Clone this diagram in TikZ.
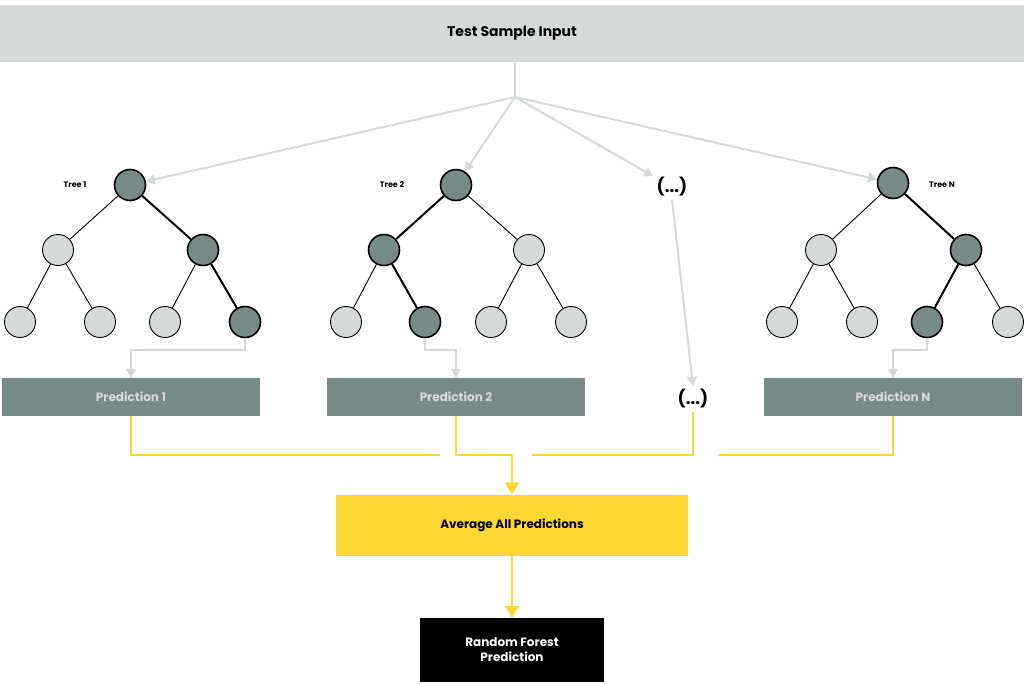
\documentclass[tikz,border=0pt]{standalone}
\usepackage{fontspec}
\setmainfont{Poppins}
\usetikzlibrary{arrows.meta}
\definecolor{lg}{HTML}{D5D9D8}
\definecolor{dg}{HTML}{788A88}
\definecolor{yl}{HTML}{FDD835}
\begin{document}
\begin{tikzpicture}[x=1pt,y=-1pt,
 light/.style={circle,draw=black,line width=0.9pt,fill=lg,minimum size=31pt,inner sep=0},
 dark/.style={circle,draw=black,line width=1.6pt,fill=dg,minimum size=31pt,inner sep=0},
 e/.style={line width=0.9pt},
 ed/.style={line width=2pt},
 ga/.style={draw=lg,line width=2pt,-{Triangle[length=9pt,width=10pt]}},
 ya/.style={draw=yl,line width=2pt},
 pred/.style={fill=dg,text=lg,font=\bfseries\fontsize{12}{14}\selectfont,minimum width=258pt,minimum height=38pt,inner sep=0},
 tl/.style={font=\bfseries\fontsize{8}{10}\selectfont}]
\useasboundingbox (0,0) rectangle (1024,683);
\node[fill=lg,minimum width=1024pt,minimum height=57pt,inner sep=0,font=\bfseries\fontsize{14}{16}\selectfont] (top) at (512,33) {Test Sample Input};
\coordinate (br) at (515,97);
% trees
\foreach \t/\x in {a/130,b/456,c/893}{
 \coordinate (\t0) at (\x,185);
}
\node[dark] (a0) at (130,185) {};
\node[light] (a1) at (58,250) {}; \node[dark] (a2) at (203,250) {};
\node[light] (a3) at (20,322) {}; \node[light] (a4) at (100,322) {};
\node[light] (a5) at (165,322) {}; \node[dark] (a6) at (245,322) {};
\node[dark] (b0) at (456,185) {};
\node[dark] (b1) at (384,250) {}; \node[light] (b2) at (529,250) {};
\node[light] (b3) at (346,322) {}; \node[dark] (b4) at (425,322) {};
\node[light] (b5) at (491,322) {}; \node[light] (b6) at (571,322) {};
\node[dark] (c0) at (893,183) {};
\node[light] (c1) at (821,250) {}; \node[dark] (c2) at (966,250) {};
\node[light] (c3) at (782,322) {}; \node[light] (c4) at (862,322) {};
\node[dark] (c5) at (927,322) {}; \node[light] (c6) at (1008,322) {};
\draw[e] (a0)--(a1) (a1)--(a3) (a1)--(a4) (a2)--(a5);
\draw[ed] (a0)--(a2) (a2)--(a6);
\draw[e] (b0)--(b2) (b2)--(b5) (b2)--(b6) (b1)--(b3);
\draw[ed] (b0)--(b1) (b1)--(b4);
\draw[e] (c0)--(c1) (c1)--(c3) (c1)--(c4) (c2)--(c6);
\draw[ed] (c0)--(c2) (c2)--(c5);
\node[tl] (t1) at (75,185) {Tree 1};
\node[tl] (t2) at (392,185) {Tree 2};
\node[tl] (t3) at (942,185) {Tree N};
\node[font=\bfseries\fontsize{17}{19}\selectfont] (d1) at (672,187) {(...)};
% top arrows
\draw[draw=lg,line width=2pt] (top.south -| br) -- (br);
\draw[ga] (br) -- (a0);
\draw[ga] (br) -- (b0);
\draw[ga] (br) -- (d1);
\draw[ga] (br) -- (c0);
% predictions
\node[pred] (p1) at (131,397) {Prediction 1};
\node[pred] (p2) at (456,397) {Prediction 2};
\node[pred] (p3) at (893,397) {Prediction N};
\node[font=\bfseries\fontsize{17}{19}\selectfont] (d2) at (693,399) {(...)};
\draw[ga] (a6.south) -- (245,350) -- (131,350) -- (p1.north);
\draw[ga] (b4.south) -- (425,350) -- (456,350) -- (p2.north);
\draw[ga] (c5.south) -- (927,350) -- (893,350) -- (p3.north);
\draw[ga] (d1.south) -- (d2.north);
% average
\node[fill=yl,minimum width=352pt,minimum height=61pt,inner sep=0,font=\bfseries\fontsize{12}{14}\selectfont] (avg) at (512,525) {Average All Predictions};
\node[fill=black,text=white,minimum width=184pt,minimum height=64pt,inner sep=0,align=center,font=\bfseries\fontsize{12}{15}\selectfont] (rf) at (512,650) {Random Forest\\Prediction};
\draw[ya] (p1.south) -- (131,455) -- (440,455);
\draw[ya] (p2.south) -- (456,455) -- (512,455);
\draw[ya,-{Triangle[length=12pt,width=14pt]}] (512,455) -- (avg.north);
\draw[ya] (532,455) -- (693,455) -- (d2.south);
\draw[ya] (718,455) -- (893,455) -- (p3.south);
\draw[ya,-{Triangle[length=12pt,width=14pt]}] (avg.south) -- (rf.north);
\end{tikzpicture}
\end{document}
